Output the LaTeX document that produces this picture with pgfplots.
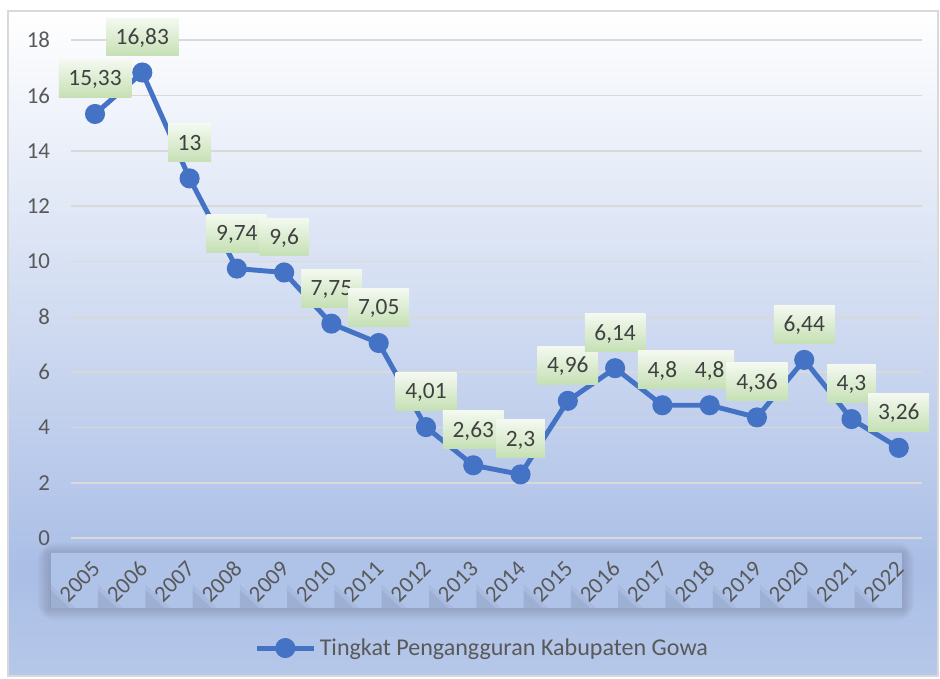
\documentclass[border=0pt]{standalone}
\usepackage{pgfplots}
\pgfplotsset{compat=1.18}
\usepackage{pgfplotstable}
\usepackage{fontspec}
\setmainfont{Carlito}

\definecolor{lineblue}{RGB}{68,114,196}
\definecolor{txt}{RGB}{89,89,89}
\definecolor{lbl}{RGB}{64,64,64}
\definecolor{gridc}{RGB}{217,217,217}
\definecolor{bgA}{RGB}{182,200,233}
\definecolor{bgB}{RGB}{170,190,230}
\definecolor{boxfill}{RGB}{175,195,233}
\definecolor{lgtop}{RGB}{244,249,240}
\definecolor{lgbot}{RGB}{197,224,180}
\pgfdeclareverticalshading{chartbg}{100bp}{color(0bp)=(bgA); color(25bp)=(bgA); color(33bp)=(bgB); color(75bp)=(white); color(100bp)=(white)}

% Tingkat pengangguran, Kabupaten Gowa
\pgfplotstableread{
x y label
0 15.33 15,33
1 16.83 16,83
2 13 13
3 9.74 9,74
4 9.6 9,6
5 7.75 7,75
6 7.05 7,05
7 4.01 4,01
8 2.63 2,63
9 2.3 2,3
10 4.96 4,96
11 6.14 6,14
12 4.8 4,8
13 4.8 4,8
14 4.36 4,36
15 6.44 6,44
16 4.3 4,3
17 3.26 3,26
}\gowa

\begin{document}
\begin{tikzpicture}[x=0.02cm, y=0.02cm]
  % background and frame (pixel units, y up)
  \fill[white] (0,0) rectangle (940,679);
  \shade[shading=chartbg] (8,3) rectangle (938,668);
  \draw[gridc, line width=0.8pt] (8,3) rectangle (938,668);
  % soft shadow round the strip of year labels
  \foreach \s in {10,8,...,0}{
    \fill[black, opacity=0.022, rounded corners=\s] (50.7-\s-3,71-\s-2) rectangle (904+\s,126+\s);
  }
  \foreach \i in {0,...,17}{
    \pgfmathsetmacro\xl{50.7+47.29*\i}
    \fill[boxfill] (\xl,71) rectangle (\xl+47.3,126);
    % darker wedge below-left of each rotated label
    \fill[black, opacity=0.06] (\xl,89) -- (\xl+19,71) -- (\xl,71) -- cycle;
    \fill[black, opacity=0.04] (\xl,95) -- (\xl+25,71) -- (\xl,71) -- cycle;
  }

  \begin{axis}[
    at={(1.428cm,2.82cm)}, anchor=south west,
    scale only axis, width=17.024cm, height=9.96cm,
    xmin=-0.5, xmax=17.5, ymin=0, ymax=18,
    ytick={0,2,...,18},
    xtick={0,...,17},
    xticklabels={2005,2006,2007,2008,2009,2010,2011,2012,2013,2014,2015,2016,2017,2018,2019,2020,2021,2022},
    axis line style={draw=none}, major tick length=0pt,
    ymajorgrids, grid style={gridc, line width=1pt},
    tick label style={font=\fontsize{13}{15}\selectfont, text=txt},
    xticklabel style={rotate=45, anchor=east, inner sep=0pt, xshift=1pt},
    xticklabel shift=16pt,
    yticklabel style={anchor=east, inner sep=0pt},
    yticklabel shift=12pt,
    /pgf/number format/assume math mode=true,
    clip=false,
    legend style={at={(0.4836,-0.221)}, anchor=center, draw=none, fill=none,
      font=\fontsize{13.7}{16}\selectfont, text=txt},
    legend image code/.code={\draw[mark repeat=2,mark phase=2] plot coordinates {(0cm,0cm) (0.57cm,0cm) (1.14cm,0cm)};},
  ]
    \addplot[lineblue, line width=2.8pt, mark=*, mark size=4.3pt, mark options={solid},
      point meta=explicit symbolic, nodes near coords,
      every node near coord/.style={anchor=south, yshift=8pt, draw=none,
        font=\fontsize{13.3}{15}\selectfont, text=lbl,
        top color=lgtop, bottom color=lgbot,
        inner xsep=5.5pt, inner ysep=0pt, minimum height=21.6pt,
        text height=8.4pt, text depth=0pt}]
      table[x=x, y=y, meta=label]{\gowa};
    \addlegendentry{Tingkat Pengangguran Kabupaten Gowa}
  \end{axis}
\end{tikzpicture}
\end{document}
